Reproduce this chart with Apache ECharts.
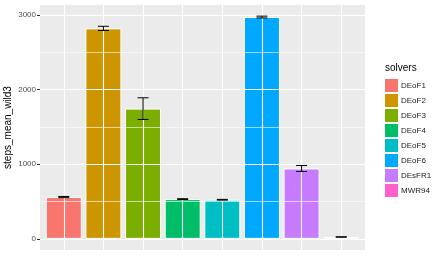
<!DOCTYPE html>
<html>
<head>
<meta charset="utf-8">
<script src="https://cdn.jsdelivr.net/npm/echarts@6/dist/echarts.min.js"></script>
<style>html,body{margin:0;padding:0;background:#fff}#c{width:436px;height:258px}</style>
</head>
<body>
<div id="c"></div>
<script>
const solvers = ["DEoF1","DEoF2","DEoF3","DEoF4","DEoF5","DEoF6","DEsFR1","MWR94"];
const meanSteps = [560, 2820, 1745, 533, 524, 2972, 943, 25];
const errSteps = [8, 28, 145, 5, 5, 12, 40, 3];
const colors = ["#F8766D","#CD9600","#7CAE00","#00BE67","#00BFC4","#00A9FF","#C77CFF","#FF61CC"];
const yTicks = [0, 1000, 2000, 3000];
const yMinor = [500, 1500, 2500];

const yMax = Math.max(...meanSteps.map((v,i)=>v+errSteps[i]));
const pad = yMax*0.05;

const chart = echarts.init(document.getElementById('c'), null, {renderer:'canvas'});
const series = solvers.map((s,i)=>({
  name: s, type: 'bar', stack: 'all', barWidth: 36, z: 3,
  itemStyle: {color: colors[i], borderColor: '#fff', borderWidth: 1},
  data: [[i+1, meanSteps[i]]]
}));
series.push({
  name: '_grid', type: 'line', data: [], z: 1, silent: true,
  markLine: {
    silent: true, symbol: 'none', label: {show: false}, animation: false,
    data: [
      ...yMinor.map(v=>({yAxis: v, lineStyle:{color:'#fff', width:0.6, type:'solid'}})),
      ...yTicks.map(v=>({yAxis: v, lineStyle:{color:'#fff', width:1.1, type:'solid'}})),
      ...solvers.map((s,i)=>({xAxis: i+1, lineStyle:{color:'#fff', width:1.1, type:'solid'}}))
    ]
  }
});
series.push({
  name: '_err', type: 'custom', z: 5, silent: true,
  data: meanSteps.map((v,i)=>[i+1, v-errSteps[i], v+errSteps[i]]),
  renderItem: function(params, api){
    const lo = api.coord([api.value(0), api.value(1)]);
    const hi = api.coord([api.value(0), api.value(2)]);
    const hw = 5.5;
    const st = {stroke:'#000', lineWidth:1};
    return {type:'group', children:[
      {type:'line', shape:{x1:lo[0], y1:lo[1], x2:hi[0], y2:hi[1]}, style:st},
      {type:'line', shape:{x1:lo[0]-hw, y1:lo[1], x2:lo[0]+hw, y2:lo[1]}, style:st},
      {type:'line', shape:{x1:hi[0]-hw, y1:hi[1], x2:hi[0]+hw, y2:hi[1]}, style:st}
    ]};
  }
});

chart.setOption({
  animation: false,
  textStyle: {fontFamily: 'Liberation Sans, Arial, sans-serif'},
  title: {text: 'solvers', left: 380, top: 58, textStyle:{fontSize: 10, fontWeight: 'normal', color:'#000'}},
  legend: {
    data: solvers, orient: 'vertical', left: 380, top: 74,
    itemWidth: 13, itemHeight: 13, itemGap: 2, icon: 'rect',
    textStyle: {fontSize: 8, color: '#1a1a1a', padding: [0,0,0,-2]},
    itemStyle: {borderWidth: 0}
  },
  grid: {left: 40, right: 71, top: 5, bottom: 8, show: true, backgroundColor: '#EBEBEB', borderWidth: 0, outerBoundsMode: 'none', containLabel: false},
  xAxis: {
    type: 'value', min: 0.4, max: 8.6,
    axisLine: {show:false}, axisTick: {show:false}, axisLabel: {show:false}, splitLine: {show:false}
  },
  yAxis: {
    type: 'value', min: -pad, max: yMax + pad,
    name: 'steps_mean_wild3', nameLocation: 'middle', nameGap: 27, nameMoveOverlap: false,
    nameTextStyle: {fontSize: 10, color: '#000'},
    axisLine: {show:false},
    axisTick: {show:true, length: 3, lineStyle:{color:'#333', width:1}, customValues: yTicks},
    axisLabel: {fontSize: 8, color: '#4D4D4D', margin: 4, customValues: yTicks, formatter: v => String(v)},
    splitLine: {show:false}
  },
  series: series
});
</script>
</body>
</html>
